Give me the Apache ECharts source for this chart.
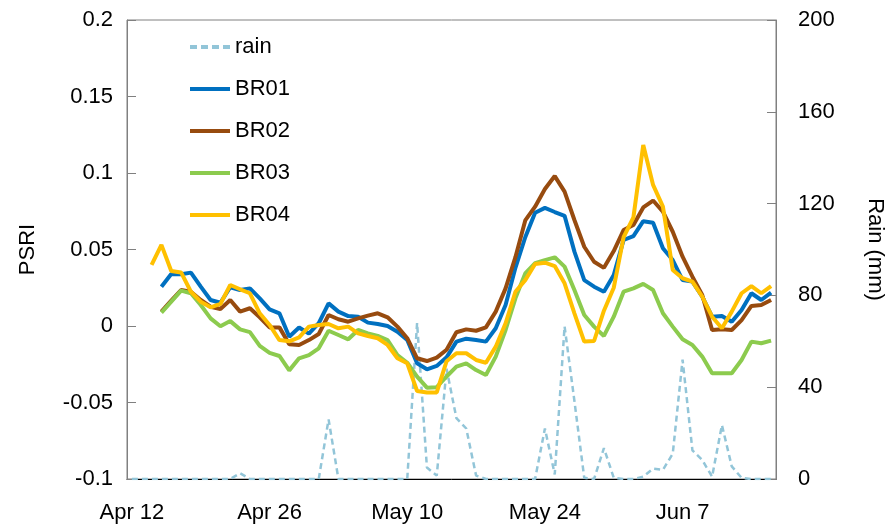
<!DOCTYPE html>
<html>
<head>
<meta charset="utf-8">
<script src="https://cdn.jsdelivr.net/npm/echarts@6/dist/echarts.min.js"></script>
<style>
  html, body { margin: 0; padding: 0; background: #fff; }
  #chart { width: 894px; height: 530px; }
</style>
</head>
<body>
<div id="chart"></div>
<script>
// Daily observation dates
const dates = [
  'Apr 12','Apr 13','Apr 14','Apr 15','Apr 16','Apr 17','Apr 18','Apr 19','Apr 20','Apr 21',
  'Apr 22','Apr 23','Apr 24','Apr 25','Apr 26','Apr 27','Apr 28','Apr 29','Apr 30',
  'May 1','May 2','May 3','May 4','May 5','May 6','May 7','May 8','May 9','May 10',
  'May 11','May 12','May 13','May 14','May 15','May 16','May 17','May 18','May 19','May 20',
  'May 21','May 22','May 23','May 24','May 25','May 26','May 27','May 28','May 29','May 30','May 31',
  'Jun 1','Jun 2','Jun 3','Jun 4','Jun 5','Jun 6','Jun 7','Jun 8','Jun 9','Jun 10',
  'Jun 11','Jun 12','Jun 13','Jun 14','Jun 15','Jun 16'
];

// Daily rainfall (mm)
const rain = [
  0, 0, 0, 0, 0, 0, 0, 0, 0, 0,
  0, 2.5, 0, 0, 0, 0, 0, 0, 0,
  0, 26, 0, 0, 0, 0, 0, 0, 0, 0,
  68, 5, 1.5, 48, 26.5, 22, 1.5, 0, 0, 0,
  0, 0, 0, 22, 2, 66.5, 34, 0.5, 0, 13.5, 0.5,
  0, 0, 1, 4.5, 4, 11, 52, 12.5, 8.3, 1,
  23.5, 5.5, 0.5, 0, 0, 0
];

// PSRI per plot
const br01 = [
  null, null, null, 0.0257, 0.034, 0.0338, 0.0349, 0.0257, 0.017, 0.0152,
  0.0253, 0.0235, 0.0246, 0.018, 0.0109, 0.0083, -0.007, -0.001, -0.005,
  0.0018, 0.0148, 0.0094, 0.0065, 0.0061, 0.0022, 0.0013, 0.0, -0.0037, -0.0092,
  -0.0244, -0.0283, -0.0261, -0.0205, -0.0102, -0.0083, -0.0092, -0.0102, -0.0015, 0.0137,
  0.038, 0.058, 0.074, 0.0772, 0.0745, 0.072, 0.0486, 0.03, 0.0257, 0.0224, 0.0333,
  0.0562, 0.0588, 0.0685, 0.0675, 0.0508, 0.0431, 0.03, 0.029, 0.0192, 0.0061,
  0.0065, 0.0028, 0.0105, 0.0214, 0.017, 0.0218
];
const br02 = [
  null, null, null, 0.0094, 0.0166, 0.0235, 0.0224, 0.017, 0.0126, 0.0111,
  0.017, 0.0094, 0.0116, 0.0057, -0.0009, -0.0009, -0.012, -0.0124, -0.0092,
  -0.0052, 0.0072, 0.0044, 0.0028, 0.005, 0.0068, 0.0083, 0.0057, -0.0004, -0.008,
  -0.0211, -0.0229, -0.0207, -0.0155, -0.0041, -0.0022, -0.0031, -0.0009, 0.0094, 0.0246,
  0.045, 0.069, 0.078, 0.0895, 0.098, 0.0878, 0.0693, 0.0518, 0.042, 0.038, 0.049,
  0.0627, 0.066, 0.0775, 0.082, 0.0747, 0.0616, 0.0453, 0.0322, 0.0203, -0.0026,
  -0.0022, -0.0026, 0.0039, 0.0131, 0.0137, 0.017
];
const br03 = [
  null, null, null, 0.0087, 0.0159, 0.0231, 0.0214, 0.0137, 0.005, -0.0002,
  0.0032, -0.0022, -0.004, -0.013, -0.0176, -0.0196, -0.029, -0.0211, -0.019,
  -0.0146, -0.0031, -0.0059, -0.0087, -0.0026, -0.0048, -0.0065, -0.0092, -0.019, -0.024,
  -0.0331, -0.0403, -0.04, -0.033, -0.0266, -0.0244, -0.0288, -0.032, -0.02, -0.0026,
  0.0181, 0.0344, 0.041, 0.0431, 0.0449, 0.0388, 0.0235, 0.0072, -0.0004, -0.0065, 0.0061,
  0.0224, 0.0246, 0.0275, 0.0235, 0.0083, -0.0004, -0.0087, -0.0124, -0.02, -0.0309,
  -0.0309, -0.0309, -0.0222, -0.0102, -0.0113, -0.0096
];
const br04 = [
  null, null, 0.0399, 0.053, 0.036, 0.035, 0.0224, 0.0159, 0.0122, 0.0144,
  0.0268, 0.024, 0.0214, 0.0083, 0.0007, -0.0092, -0.01, -0.0074, -0.0004,
  0.0007, 0.0013, -0.0015, -0.0004, -0.0048, -0.0065, -0.008, -0.0124, -0.0211, -0.0244,
  -0.0425, -0.0434, -0.0434, -0.023, -0.0178, -0.0178, -0.0222, -0.024, -0.0135, 0.0018,
  0.0224, 0.03, 0.0405, 0.0414, 0.0392, 0.0279, 0.0083, -0.0102, -0.0098, 0.01, 0.025,
  0.058, 0.071, 0.1183, 0.0922, 0.078, 0.0366, 0.0312, 0.029, 0.0192, 0.0061,
  -0.0015, 0.0094, 0.0214, 0.0261, 0.0214, 0.0261
];

const FONT = "'Liberation Sans', Arial, sans-serif";
const FS = 22;
const TXT = '#000';

// Legend keys: a solid bar for the PSRI lines, four short dashes for rain
const SOLID_KEY = 'path://M0,0H40V4H0Z';
const DASH_KEY = 'path://M0,0H7V4H0Z M11,0H18V4H11Z M22,0H29V4H22Z M33,0H40V4H33Z';

function psriSeries(name, data, color) {
  return {
    name: name,
    type: 'line',
    yAxisIndex: 0,
    data: data,
    symbol: 'none',
    smooth: false,
    connectNulls: false,
    lineStyle: { color: color, width: 4 },
    itemStyle: { color: color },
    z: 3
  };
}

const chart = echarts.init(document.getElementById('chart'), null, { renderer: 'canvas' });

chart.setOption({
  animation: false,
  backgroundColor: '#fff',
  grid: {
    left: 127, right: 116, top: 20, bottom: 51,
    show: true, borderColor: '#808080', borderWidth: 1, backgroundColor: 'transparent'
  },
  legend: {
    left: 190,
    top: 36,
    padding: 0,
    orient: 'vertical',
    itemWidth: 40,
    itemHeight: 4,
    itemGap: 20,
    textStyle: { fontFamily: FONT, fontSize: FS, color: TXT, lineHeight: 22 },
    data: [
      { name: 'rain', icon: DASH_KEY },
      { name: 'BR01', icon: SOLID_KEY },
      { name: 'BR02', icon: SOLID_KEY },
      { name: 'BR03', icon: SOLID_KEY },
      { name: 'BR04', icon: SOLID_KEY }
    ]
  },
  xAxis: {
    type: 'category',
    data: dates,
    boundaryGap: true,
    axisLine: { show: true, onZero: false, lineStyle: { color: '#000', width: 1 } },
    axisTick: { show: false },
    axisLabel: {
      interval: function (idx) { return idx % 14 === 0; },
      fontFamily: FONT, fontSize: FS, color: TXT, margin: 23
    },
    splitLine: { show: false }
  },
  yAxis: [
    {
      type: 'value',
      min: -0.1, max: 0.2, interval: 0.05,
      name: 'PSRI',
      nameLocation: 'middle',
      nameGap: 88,
      nameTextStyle: { fontFamily: FONT, fontSize: FS, color: TXT },
      axisLine: { show: true, onZero: false, lineStyle: { color: '#808080' } },
      axisTick: { show: true, inside: true, length: 9, lineStyle: { color: '#808080' } },
      axisLabel: { fontFamily: FONT, fontSize: FS, color: TXT, margin: 14 },
      splitLine: { show: false }
    },
    {
      type: 'value',
      min: 0, max: 200, interval: 40,
      position: 'right',
      name: 'Rain (mm)',
      nameLocation: 'middle',
      nameRotate: -90,
      nameGap: 88,
      nameTextStyle: { fontFamily: FONT, fontSize: FS, color: TXT },
      axisLine: { show: true, onZero: false, lineStyle: { color: '#808080' } },
      axisTick: { show: true, inside: true, length: 9, lineStyle: { color: '#808080' } },
      axisLabel: { fontFamily: FONT, fontSize: FS, color: TXT, margin: 22 },
      splitLine: { show: false }
    }
  ],
  series: [
    {
      name: 'rain',
      type: 'line',
      yAxisIndex: 1,
      data: rain,
      symbol: 'none',
      lineStyle: { color: '#92C5D8', width: 2.5, type: [6, 4] },
      itemStyle: { color: '#92C5D8' },
      z: 2
    },
    psriSeries('BR01', br01, '#0070C0'),
    psriSeries('BR02', br02, '#974B0F'),
    psriSeries('BR03', br03, '#8CCB4E'),
    psriSeries('BR04', br04, '#FFC000')
  ]
});
</script>
</body>
</html>
